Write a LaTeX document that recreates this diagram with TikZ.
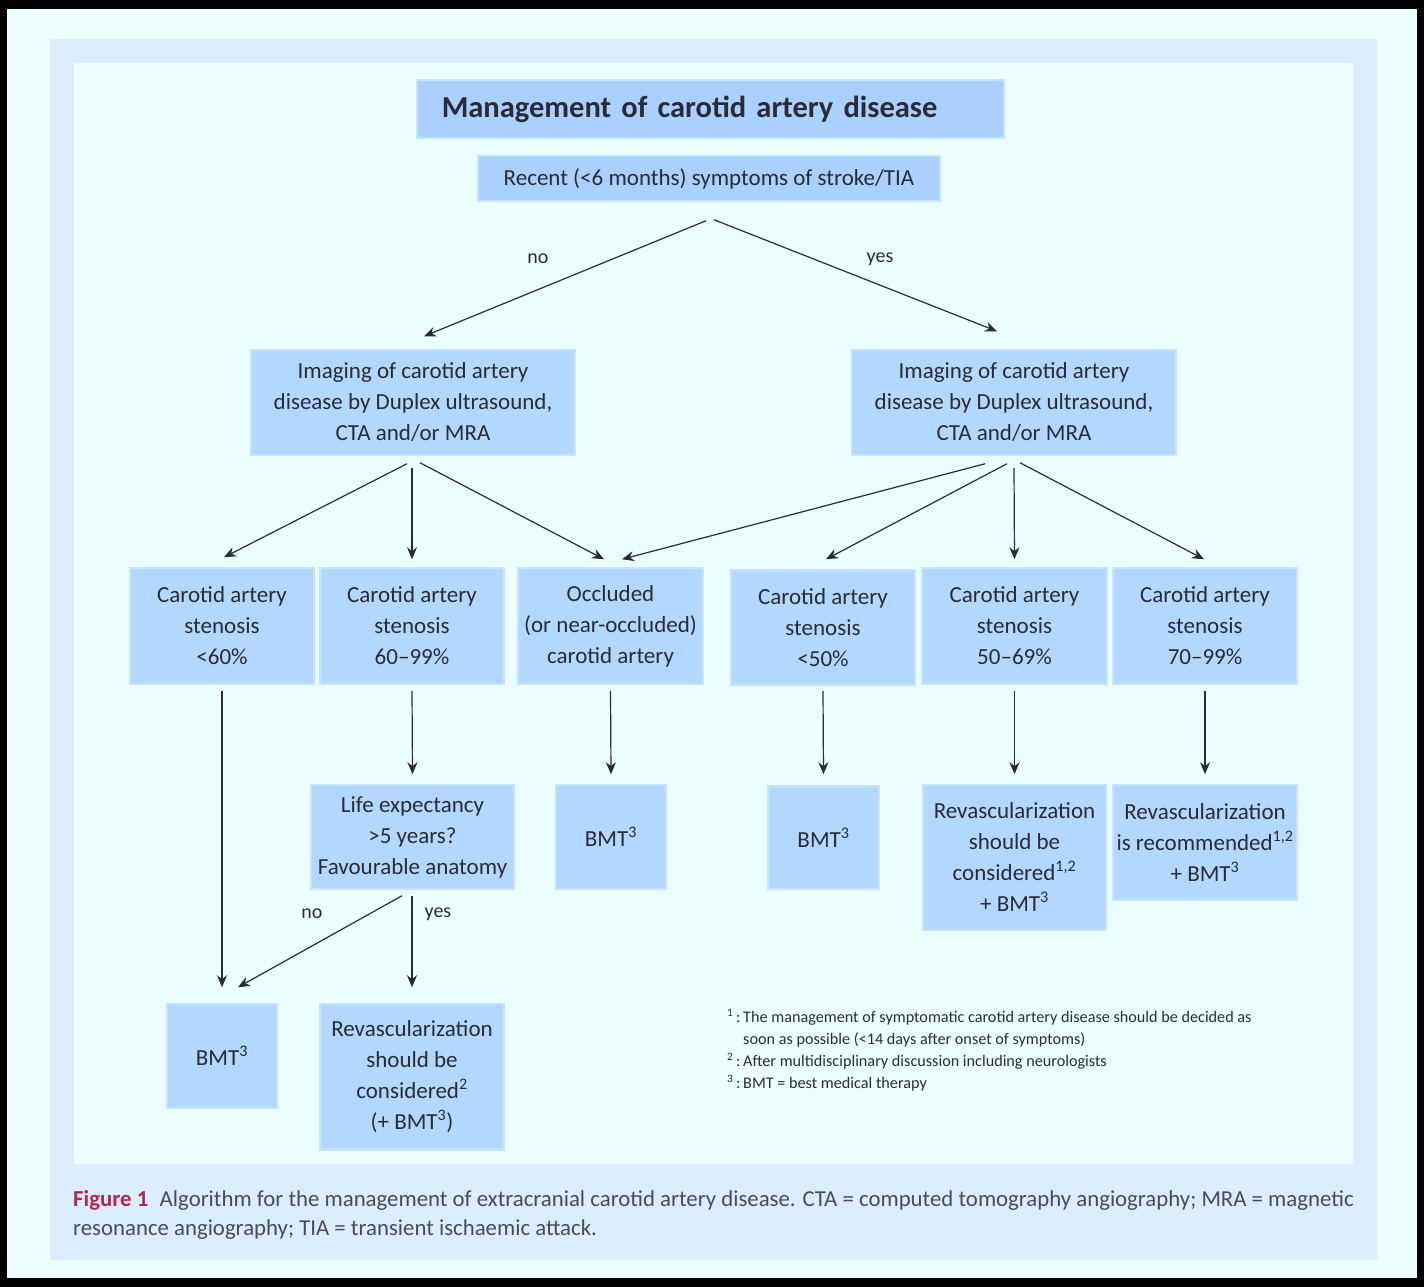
\documentclass[tikz,border=0pt]{standalone}
\usepackage{fontspec}
\setmainfont{Carlito}
\usetikzlibrary{calc, arrows.meta, positioning}
\definecolor{framebg}{HTML}{EBFFFF}
\definecolor{panelbg}{HTML}{DAEEFF}
\definecolor{boxfill}{HTML}{B3D7FF}
\definecolor{boxline}{HTML}{C8E3FF}
\definecolor{titlefill}{HTML}{A9D0FF}
\definecolor{ink}{HTML}{2A2B38}
\definecolor{figred}{HTML}{B3284F}
\tikzset{
  box/.style={draw=boxline, line width=1.5pt, fill=boxfill, align=center, inner sep=0pt,
    text=ink, font=\fontsize{23}{31}\selectfont},
  flow/.style={draw=ink, line width=1.2pt, -{Stealth[length=12pt,width=10pt]}},
  answer/.style={text=ink, font=\fontsize{20}{24}\selectfont},
}

\begin{document}
\begin{tikzpicture}[x=1pt,y=-1pt]
\useasboundingbox (0,0) rectangle (1424,1287);
\fill[black] (0,0) rectangle (1424,1287);
\fill[framebg] (7,9) rectangle (1417,1278);
\fill[panelbg] (50,39) rectangle (1377,1260);
\fill[framebg] (74,63) rectangle (1353,1164);

\node[box, fill=titlefill, anchor=west, minimum height=58pt, text width=537pt, inner xsep=25pt, align=left,
  font=\fontsize{30.5}{36}\selectfont\bfseries] (title) at (416,109) {Management of carotid artery disease};
\node[box, fill=titlefill, minimum width=462pt, minimum height=45pt] (recent) at (709,178.5)
  {Recent (<6 months) symptoms of stroke/TIA};

\node[box, minimum width=324pt, minimum height=105pt] (imgL) at (413,402.5)
  {Imaging of carotid artery\\disease by Duplex ultrasound,\\CTA and/or MRA};
\node[box, minimum width=324pt, minimum height=105pt] (imgR) at (1014,402.5)
  {Imaging of carotid artery\\disease by Duplex ultrasound,\\CTA and/or MRA};

\node[box, minimum width=184pt, minimum height=116pt] (stenA) at (222,626) {Carotid artery\\stenosis\\<60\%};
\node[box, minimum width=184pt, minimum height=116pt] (stenB) at (412,626) {Carotid artery\\stenosis\\60--99\%};
\node[box, minimum width=185pt, minimum height=116pt] (occl) at (610.5,626) {Occluded\\(or near-occluded)\\carotid artery};
\node[box, minimum width=184pt, minimum height=115pt] (stenD) at (823,627.5) {Carotid artery\\stenosis\\<50\%};
\node[box, minimum width=185pt, minimum height=116pt] (stenE) at (1014.5,626) {Carotid artery\\stenosis\\50--69\%};
\node[box, minimum width=184pt, minimum height=116pt] (stenF) at (1205,626) {Carotid artery\\stenosis\\70--99\%};

\node[box, minimum width=203pt, minimum height=104pt] (life) at (412.5,837) {Life expectancy\\>5 years?\\Favourable anatomy};
\node[box, minimum width=110pt, minimum height=104pt] (bmtC) at (611,837) {BMT\textsuperscript{3}};
\node[box, minimum width=111pt, minimum height=103pt] (bmtD) at (823.5,837.5) {BMT\textsuperscript{3}};
\node[box, minimum width=183pt, minimum height=145pt] (revE) at (1014.5,857.5)
  {Revascularization\\should be\\considered\textsuperscript{1,2}\\+ BMT\textsuperscript{3}};
\node[box, minimum width=184pt, minimum height=115pt] (revF) at (1205,842.5)
  {Revascularization\\is recommended\textsuperscript{1,2}\\+ BMT\textsuperscript{3}};

\node[box, minimum width=110pt, minimum height=104pt] (bmtA) at (222,1056) {BMT\textsuperscript{3}};
\node[box, minimum width=184pt, minimum height=146pt] (revB) at (412,1077)
  {Revascularization\\should be\\considered\textsuperscript{2}\\(+ BMT\textsuperscript{3})};

\draw[flow] ([xshift=-3pt,yshift=-19pt]recent.south) -- ([xshift=11pt,yshift=13pt]imgL.north);
\draw[flow] ([xshift=5pt,yshift=-18pt]recent.south) -- ([xshift=-17pt,yshift=18pt]imgR.north);
\node[answer] (noTop) at (538,259) {no};
\node[answer] (yesTop) at (880,259) {yes};

\draw[flow] ([xshift=-6pt,yshift=-8pt]imgL.south) -- ([xshift=2pt,yshift=10pt]stenA.north);
\draw[flow] ([xshift=-1pt,yshift=-12pt]imgL.south) -- ([yshift=8pt]stenB.north);
\draw[flow] ([xshift=7pt,yshift=-7pt]imgL.south) -- ([xshift=-6.5pt,yshift=8pt]occl.north);
\draw[flow] ([xshift=-29pt,yshift=-8pt]imgR.south) -- ([xshift=11.5pt,yshift=8pt]occl.north);
\draw[flow] ([xshift=-7pt,yshift=-8pt]imgR.south) -- ([xshift=3pt,yshift=10pt]stenD.north);
\draw[flow] ([yshift=-12pt]imgR.south) -- ([yshift=8pt]stenE.north);
\draw[flow] ([xshift=6pt,yshift=-7pt]imgR.south) -- ([xshift=-1pt,yshift=8pt]stenF.north);

\draw[flow] ([yshift=-6pt]stenA.south) -- ([yshift=16pt]bmtA.north);
\draw[flow] ([yshift=-6pt]stenB.south) -- ([yshift=10pt]life.north);
\draw[flow] ([yshift=-6pt]occl.south) -- ([yshift=10pt]bmtC.north);
\draw[flow] ([yshift=-5pt]stenD.south) -- ([yshift=11pt]bmtD.north);
\draw[flow] ([yshift=-6pt]stenE.south) -- ([yshift=10pt]revE.north);
\draw[flow] ([yshift=-6pt]stenF.south) -- ([yshift=10pt]revF.north);

\draw[flow] ([xshift=-10.5pt,yshift=-6pt]life.south) -- ([xshift=16pt,yshift=16pt]bmtA.north);
\draw[flow] ([xshift=-0.5pt,yshift=-6pt]life.south) -- ([yshift=16pt]revB.north);
\node[answer] (noLife) at (312,914) {no};
\node[answer] (yesLife) at (438,914) {yes};

\node[anchor=north west, inner sep=0pt, text=ink, font=\fontsize{16.2}{22}\selectfont] (notes) at (727,1007)
  {\begin{tabular}{@{}r@{\,:\,}l@{}}
   \textsuperscript{1} & The management of symptomatic carotid artery disease should be decided as\\
   \multicolumn{1}{@{}r@{\phantom{\,:\,}}}{} & soon as possible (<14 days after onset of symptoms)\\
   \textsuperscript{2} & After multidisciplinary discussion including neurologists\\
   \textsuperscript{3} & BMT = best medical therapy
   \end{tabular}};

\node[anchor=north west, inner sep=0pt, align=left, text=ink!85, font=\fontsize{22.8}{29}\selectfont] (caption) at (73,1190)
  {{\color{figred}\bfseries Figure 1}\enspace Algorithm for the management of extracranial carotid artery disease. CTA = computed tomography angiography; MRA = magnetic\\
   resonance angiography; TIA = transient ischaemic attack.};
\end{tikzpicture}
\end{document}
